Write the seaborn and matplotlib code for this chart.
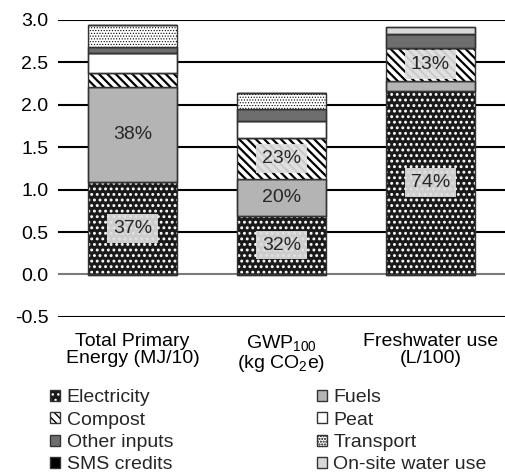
import numpy as np
import pandas as pd
import matplotlib
matplotlib.use('Agg')
import matplotlib.pyplot as plt
from matplotlib.patches import Patch
from matplotlib.legend_handler import HandlerTuple
import seaborn as sns

# --- data ---
categories = ['Total Primary\nEnergy (MJ/10)',
              'GWP$_{100}$\n(kg CO$_2$e)',
              'Freshwater use\n(L/100)']
components = ['Electricity', 'Fuels', 'Compost', 'Peat', 'Other inputs',
              'Transport', 'SMS credits', 'On-site water use']
electricity = [1.09, 0.69, 2.16]
fuels = [1.12, 0.43, 0.12]
compost = [0.165, 0.49, 0.39]
peat = [0.235, 0.20, 0.0]
other_inputs = [0.07, 0.14, 0.165]
transport = [0.26, 0.19, 0.0]
sms_credits = [-0.01, -0.01, -0.01]
onsite_water = [0.0, 0.0, 0.085]
series = [electricity, fuels, compost, peat, other_inputs, transport,
          sms_credits, onsite_water]

# style per component: face, hatch, hatch colour, hatch lw, label box
styles = {
    'Electricity': ('#1a1a1a', '...', 'white', 1.3, True),
    'Fuels': ('#b4b4b4', None, '#333333', 1.0, False),
    'Compost': ('white', '\\\\\\\\', 'black', 1.6, True),
    'Peat': ('white', None, '#333333', 1.0, False),
    'Other inputs': ('#6e6e6e', None, '#333333', 1.0, False),
    'Transport': ('white', '......', 'black', 0.5, False),
    'SMS credits': ('black', None, '#333333', 1.0, False),
    'On-site water use': ('#d9d9d9', None, '#333333', 1.0, False),
}

sns.set_style('white')
plt.rcParams['font.family'] = ['Liberation Sans', 'DejaVu Sans']
plt.rcParams['mathtext.fontset'] = 'custom'
plt.rcParams['mathtext.rm'] = 'Liberation Sans'
plt.rcParams['mathtext.it'] = 'Liberation Sans:italic'
plt.rcParams['font.size'] = 14

fig = plt.figure(figsize=(5.05, 4.75), dpi=100)
ax = fig.add_axes([0.115, 0.333, 0.885, 0.625])

pos_totals = np.sum([np.clip(s, 0, None) for s in series], axis=0)
pos_bottom = np.zeros(len(categories))
neg_bottom = np.zeros(len(categories))

for name, vals in zip(components, series):
    vals = np.array(vals, dtype=float)
    face, hatch, hcol, hlw, boxed = styles[name]
    bottoms = np.where(vals >= 0, pos_bottom, neg_bottom)
    n0 = len(ax.patches)
    with plt.rc_context({'hatch.linewidth': hlw}):
        sns.barplot(x=categories, y=vals, order=categories, bottom=bottoms,
                    color=face, edgecolor=hcol if hatch else '#333333',
                    hatch=hatch, linewidth=0 if hatch else 1.0,
                    saturation=1, width=0.6, ax=ax)
    for p in ax.patches[n0:]:
        if hasattr(p, 'set_hatch_linewidth'):
            p.set_hatch_linewidth(hlw)
    # outline on top
    sns.barplot(x=categories, y=vals, order=categories, bottom=bottoms,
                fill=False, color='#333333', linewidth=1.0,
                width=0.6, ax=ax)
    # percentage labels
    for i, v in enumerate(vals):
        pct = 100 * v / pos_totals[i]
        if pct >= 10:
            box = dict(boxstyle='square,pad=0.3', fc='#dedede',
                       ec='none', alpha=0.92) if boxed else None
            ax.text(i, bottoms[i] + v / 2, f'{pct:.0f}%', ha='center',
                    va='center', color='#262626', fontsize=14, bbox=box)
    pos_bottom = pos_bottom + np.clip(vals, 0, None)
    neg_bottom = neg_bottom + np.clip(vals, None, 0)

ax.set_ylim(-0.5, 3.0)
ax.set_xlim(-0.5, 2.5)
yticks = np.arange(-0.5, 3.01, 0.5)
ax.set_yticks(yticks)
ax.set_yticklabels([f'{t:.1f}' for t in yticks])
for t in yticks:
    if abs(t) > 1e-9:
        ax.axhline(t, color='black', lw=1.5, zorder=0)
ax.axhline(0, color='#7a7a7a', lw=1.5, zorder=0.5)
for s in ax.spines.values():
    s.set_visible(False)
ax.tick_params(axis='y', length=0, pad=7, labelsize=14, colors='black')
ax.tick_params(axis='x', length=0, pad=12, labelsize=14, colors='black')
for lab in ax.get_xticklabels():
    lab.set_linespacing(0.95)
ax.set_xlabel('')
ax.set_ylabel('')

handles = []
for name in components:
    face, hatch, hcol, hlw, boxed = styles[name]
    if hatch:
        inner = Patch(facecolor=face, edgecolor=hcol, hatch=hatch,
                      linewidth=0)
        outline = Patch(facecolor='none', edgecolor='#333333', linewidth=1.0)
        handles.append((inner, outline))
    else:
        handles.append(Patch(facecolor=face, edgecolor='#333333',
                             linewidth=1.0))
order = [0, 2, 4, 6, 1, 3, 5, 7]
fig.legend([handles[i] for i in order], [components[i] for i in order],
           handler_map={tuple: HandlerTuple(ndivide=1, pad=0)},
           loc='upper left', bbox_to_anchor=(0.099, 0.180), ncol=2,
           frameon=False, fontsize=14, handlelength=0.5, handleheight=0.5,
           handletextpad=0.35, labelspacing=0.27, columnspacing=7.4,
           borderpad=0, borderaxespad=0)

fig.savefig('out.png', dpi=100)
